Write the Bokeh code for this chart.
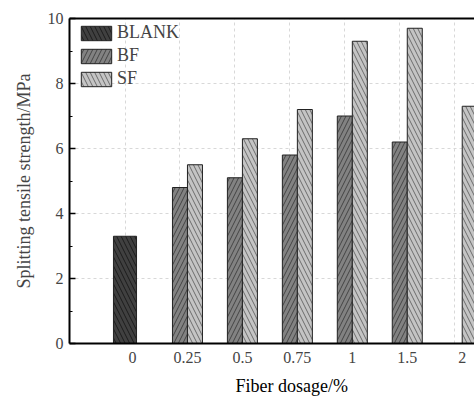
from bokeh.plotting import figure
from bokeh.models import (LinearAxis, FixedTicker, Range1d, Title, Legend, LegendItem,
                          ColumnDataSource)
from bokeh.embed import file_html
from bokeh.resources import INLINE

# ---- data ----
categories = ["0", "0.25", "0.5", "0.75", "1", "1.5", "2"]
blank = [3.3, None, None, None, None, None, None]
bf = [None, 4.8, 5.1, 5.8, 7.0, 6.2, None]
sf = [None, 5.5, 6.3, 7.2, 9.3, 9.7, 7.3]
y_ticks = [0, 2, 4, 6, 8, 10]

FONT = "Liberation Serif"
W = 0.273          # width of BF / SF bars (category units)
WB = 0.42          # width of BLANK bar

idx = list(range(len(categories)))

def series(vals, offset):
    xs, ys = [], []
    for i, v in zip(idx, vals):
        if v is not None:
            xs.append(i + offset)
            ys.append(v)
    return ColumnDataSource(dict(x=xs, top=ys))

p = figure(width=474, height=403, output_backend="svg", toolbar_location=None,
           x_range=Range1d(-1.01, 6.36), y_range=Range1d(0, 10),
           min_border_left=69, min_border_top=18, min_border_bottom=59,
           min_border_right=0, x_axis_location=None, y_axis_location=None)
p.outline_line_color = None
p.background_fill_color = "white"

common = dict(line_color="#222222", line_width=1, hatch_scale=9, hatch_weight=0.8)
r_blank = p.vbar(x="x", top="top", bottom=0, width=WB, source=series(blank, 0.0),
                 fill_color="#404040", hatch_pattern="\\", hatch_color="#111111", **common)
r_bf = p.vbar(x="x", top="top", bottom=0, width=W, source=series(bf, 0.0),
              fill_color="#828282", hatch_pattern="/", hatch_color="#333333", **common)
r_sf = p.vbar(x="x", top="top", bottom=0, width=W, source=series(sf, W),
              fill_color="#c4c4c4", hatch_pattern="\\", hatch_color="#555555", **common)

# axes
yaxis = LinearAxis(ticker=FixedTicker(ticks=y_ticks, minor_ticks=[1, 3, 5, 7, 9]),
                   axis_label="Splitting tensile strength/MPa")
yaxis.axis_line_width = 2
yaxis.major_tick_in = 6
yaxis.major_tick_out = 0
yaxis.minor_tick_in = 3
yaxis.minor_tick_out = 0
yaxis.major_tick_line_width = 1.5
yaxis.major_label_text_font = FONT
yaxis.major_label_text_font_size = "16px"
yaxis.major_label_standoff = 6
yaxis.axis_label_text_font = FONT
yaxis.axis_label_text_font_size = "18px"
yaxis.axis_label_text_font_style = "normal"
yaxis.axis_label_standoff = 11
p.add_layout(yaxis, "left")

label_pos = [i + W / 2 for i in idx]
xaxis = LinearAxis(ticker=FixedTicker(ticks=label_pos, minor_ticks=[]))
xaxis.major_label_overrides = {pos: c for pos, c in zip(label_pos, categories)}
xaxis.axis_line_width = 2
xaxis.major_tick_in = 0
xaxis.major_tick_out = 0
xaxis.minor_tick_in = 0
xaxis.minor_tick_out = 0
xaxis.major_label_text_font = FONT
xaxis.major_label_text_font_size = "16px"
xaxis.major_label_standoff = 8
p.add_layout(xaxis, "below")

top_axis = LinearAxis(ticker=FixedTicker(ticks=[]))
top_axis.axis_line_width = 2
top_axis.major_tick_in = 0
top_axis.major_tick_out = 0
top_axis.minor_tick_in = 0
top_axis.minor_tick_out = 0
top_axis.major_label_text_font_size = "0px"
p.add_layout(top_axis, "above")

# grids
p.xgrid.ticker = FixedTicker(ticks=idx)
p.ygrid.ticker = FixedTicker(ticks=[2, 4, 6, 8])
for g in (p.xgrid, p.ygrid):
    g.grid_line_color = "#d8d8d8"
    g.grid_line_dash = "3 3"
    g.grid_line_width = 1

# x axis title (centred where the original, wider frame had its centre)
xtitle = Title(text="Fiber dosage/%", align="left", offset=166, standoff=16,
               text_font=FONT, text_font_size="18px", text_font_style="normal",
               text_color="black")
p.add_layout(xtitle, "below")

legend = Legend(items=[LegendItem(label="BLANK", renderers=[r_blank]),
                       LegendItem(label="BF", renderers=[r_bf]),
                       LegendItem(label="SF", renderers=[r_sf])],
                location=(8, 254))
legend.margin = 0
legend.padding = 0
legend.spacing = 2
legend.glyph_width = 38
legend.glyph_height = 18
legend.label_standoff = 2
legend.label_text_font = FONT
legend.label_text_font_size = "18px"
legend.border_line_color = None
legend.background_fill_alpha = 0
p.add_layout(legend, "center")

open("out.html", "w").write(file_html(p, INLINE))
